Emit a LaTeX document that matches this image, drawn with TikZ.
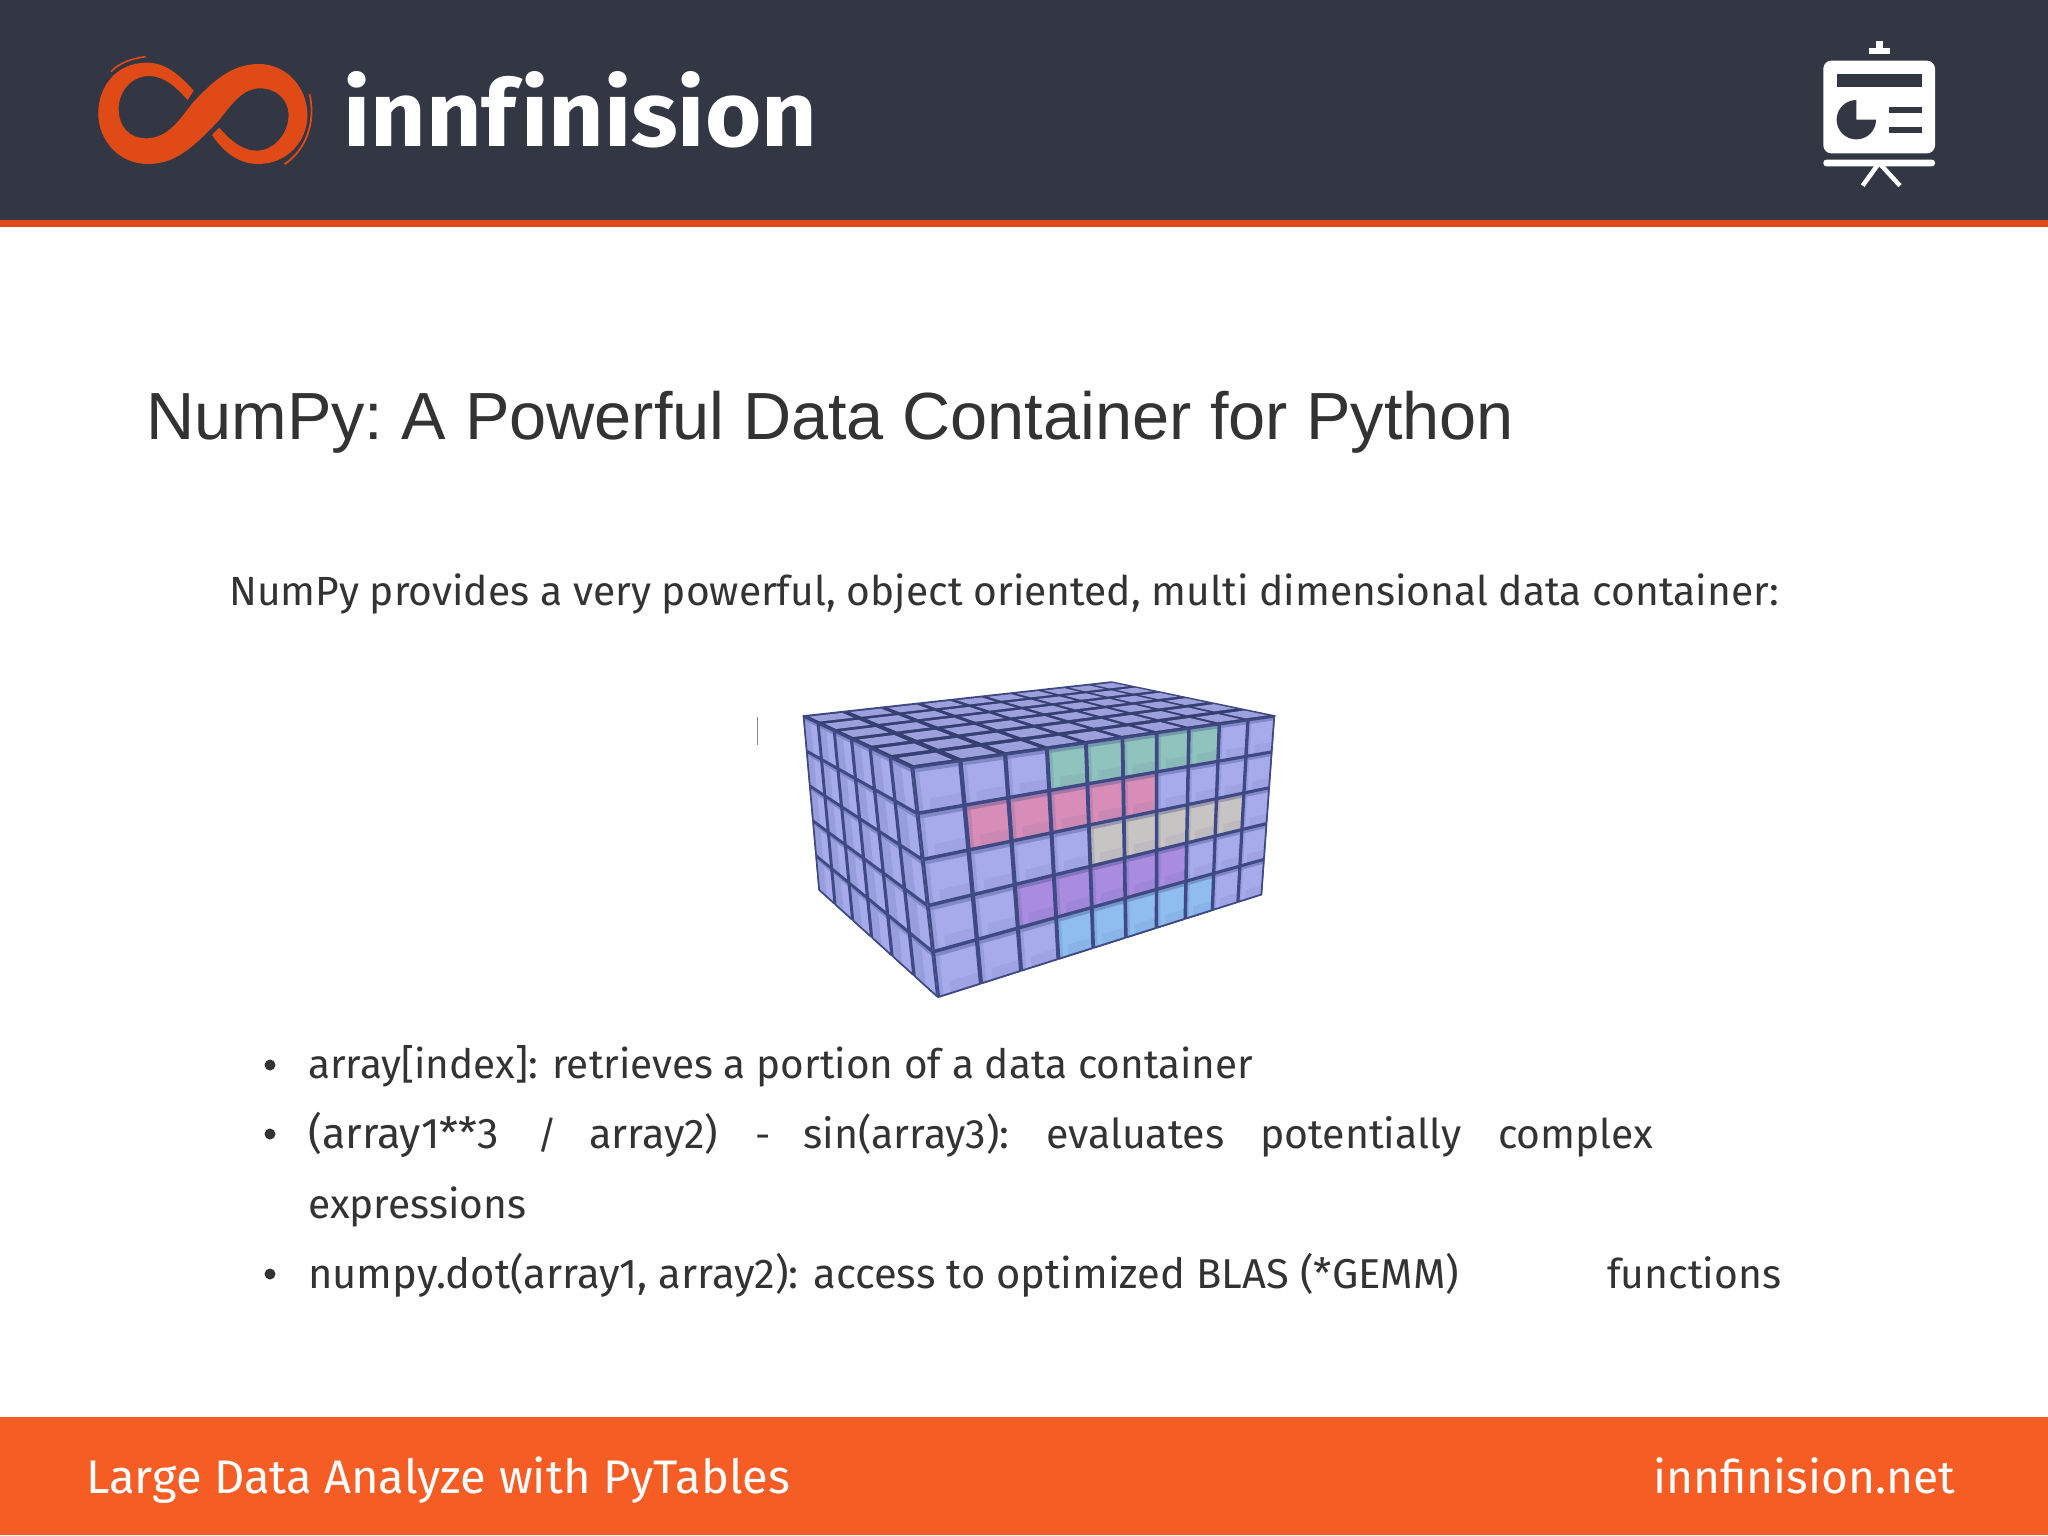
\documentclass[tikz,border=0pt]{standalone}
\usepackage{fontspec}
\usepackage{graphicx}
\setmainfont{Fira Sans}
\newfontfamily\titlefont{Liberation Sans}
\definecolor{hdr}{HTML}{333743}
\definecolor{strip}{HTML}{DF4A16}
\definecolor{foot}{HTML}{F55D25}
\definecolor{ink}{HTML}{333333}
\definecolor{cblue}{HTML}{A7ABEC}
\definecolor{ctop}{HTML}{9CA0DC}
\definecolor{cgreen}{HTML}{8FC4BE}
\definecolor{cpink}{HTML}{D78DB8}
\definecolor{cbeige}{HTML}{C9C4C4}
\definecolor{cpurple}{HTML}{A98BE0}
\definecolor{csky}{HTML}{8FBDF0}
\definecolor{cedge}{HTML}{3F4A85}
\newcommand\fitw[2]{\resizebox{#1pt}{!}{\fontsize{36}{40}\selectfont #2}}
\newcommand\cubept[4]{%
 \pgfmathsetmacro\uu{((#2)/10*1.38)/(1+.38*(#2)/10)}%
 \pgfmathsetmacro\vv{((#3)/6*1.25)/(1+.25*(#3)/6)}%
 \pgfmathsetmacro\ww{(#4)/5}%
 \pgfmathsetmacro\xx{(1-\ww)*((1-\uu)*(1-\vv)*912+\uu*(1-\vv)*1275+(1-\uu)*\vv*803+\uu*\vv*1111.4)+\ww*((1-\uu)*(1-\vv)*938+\uu*(1-\vv)*1262+(1-\uu)*\vv*818.6+\uu*\vv*1125)}%
 \pgfmathsetmacro\yy{(1-\ww)*((1-\uu)*(1-\vv)*767.3+\uu*(1-\vv)*716+(1-\uu)*\vv*716+\uu*\vv*682)+\ww*((1-\uu)*(1-\vv)*998+\uu*(1-\vv)*895+(1-\uu)*\vv*890+\uu*\vv*810)}%
 \coordinate (#1) at (\xx,\yy);}
\newcommand\rightcell[3]{%
 \cubept{a}{#1+.03}{0}{#2+.02}\cubept{b}{#1+.97}{0}{#2+.02}%
 \cubept{c}{#1+.97}{0}{#2+.98}\cubept{d}{#1+.03}{0}{#2+.98}%
 \cubept{e}{#1+.97}{0}{#2+.12}\cubept{f}{#1+.03}{0}{#2+.12}%
 \cubept{g}{#1+.13}{0}{#2+.98}\cubept{h}{#1+.13}{0}{#2+.12}%
 \cubept{p}{#1+.28}{0}{#2+.98}\cubept{q}{#1+.97}{0}{#2+.72}\cubept{r}{#1+.28}{0}{#2+.72}%
 \fill[#3] (a)--(b)--(c)--(d)--cycle;
 \fill[#3!65!cedge] (a)--(b)--(e)--(f)--cycle;
 \fill[#3!85!cedge] (f)--(h)--(g)--(d)--cycle;
 \fill[#3!92!cedge] (r)--(q)--(c)--(p)--cycle;
 \draw[cubeline] (a)--(b)--(c)--(d)--cycle;}
\newcommand\leftcell[2]{%
 \cubept{a}{0}{#1+.04}{#2+.02}\cubept{b}{0}{#1+.96}{#2+.02}%
 \cubept{c}{0}{#1+.96}{#2+.98}\cubept{d}{0}{#1+.04}{#2+.98}%
 \cubept{e}{0}{#1+.96}{#2+.12}\cubept{f}{0}{#1+.04}{#2+.12}%
 \cubept{g}{0}{#1+.5}{#2+.98}\cubept{h}{0}{#1+.5}{#2+.12}%
 \fill[cblue] (a)--(b)--(c)--(d)--cycle;
 \fill[cblue!65!cedge] (a)--(b)--(e)--(f)--cycle;
 \fill[cblue!85!cedge] (h)--(e)--(c)--(g)--cycle;
 \draw[cubeline] (a)--(b)--(c)--(d)--cycle;}
\newcommand\topcell[2]{%
 \cubept{a}{#1+.1}{#2+.15}{0}\cubept{b}{#1+.9}{#2+.15}{0}%
 \cubept{c}{#1+.9}{#2+.85}{0}\cubept{d}{#1+.1}{#2+.85}{0}%
 \fill[ctop] (a)--(b)--(c)--(d)--cycle;}
\tikzset{
 label/.style={anchor=base west,inner sep=0pt,text=ink},
 whitelabel/.style={anchor=base west,inner sep=0pt,text=white},
 bulletmark/.style={circle,fill=ink,inner sep=0pt,minimum size=11pt},
 cubeline/.style={draw=cedge,line width=1.7pt,line join=round},
}
\begin{document}
\begin{tikzpicture}[x=1pt,y=-1pt]
\useasboundingbox (0,0) rectangle (2048,1535);
\fill[white] (0,0) rectangle (2048,1535);
% header and footer
\fill[hdr] (0,0) rectangle (2048,220);
\fill[strip] (0,220) rectangle (2048,227);
\fill[foot] (0,1417) rectangle (2048,1535);
% logo
\begin{scope}[shift={(60,20)},x=0.5102pt,y=-0.3333pt]
\fill[strip] (262,212) .. controls (232,160) and (205,128) .. (170,128)
  .. controls (110,128) and (75,200) .. (75,280)
  .. controls (75,360) and (115,432) .. (172,432)
  .. controls (225,432) and (260,385) .. (312,300)
  .. controls (340,245) and (360,205) .. (392,205)
  .. controls (425,205) and (448,240) .. (448,285)
  .. controls (448,340) and (420,392) .. (385,392)
  .. controls (355,392) and (330,355) .. (312,323)
  -- (298,345)
  .. controls (320,395) and (350,432) .. (388,432)
  .. controls (445,432) and (485,365) .. (485,285)
  .. controls (485,205) and (445,132) .. (390,132)
  .. controls (335,132) and (300,185) .. (262,245)
  .. controls (240,285) and (215,355) .. (170,355)
  .. controls (135,355) and (115,320) .. (115,265)
  .. controls (115,215) and (140,168) .. (175,168)
  .. controls (205,168) and (230,205) .. (250,240) -- cycle;
\draw[strip,line width=1.6pt] (100,155) .. controls (115,130) and (140,115) .. (168,110);
\draw[strip,line width=1.8pt] (489,222) .. controls (500,290) and (490,380) .. (440,433);
\end{scope}
\node[whitelabel] (logotext) at (343,146) {\resizebox{474pt}{75pt}{\fontsize{100}{110}\selectfont\bfseries innf\kern5pt{}inision}};
% presentation icon
\begin{scope}[shift={(1780,20)},x=0.3333pt,y=-0.3333pt]
\fill[white] (267,83) rectangle (329,103);
\fill[white] (287,63) rectangle (308,83);
\fill[white,rounded corners=8pt] (130,122) rectangle (465,400);
\fill[hdr] (170,162) rectangle (426,202);
\fill[hdr] (229,299) -- (229,240) arc[start angle=90,delta angle=270,radius=19.7pt] -- cycle;
\fill[hdr] (328,261) rectangle (426,280);
\fill[hdr] (328,320) rectangle (426,340);
\fill[white,rounded corners=3pt] (130,419) rectangle (465,439);
\draw[white,line width=4.5pt] (295,432) -- (248,497);
\draw[white,line width=4.5pt] (300,432) -- (360,497);
\end{scope}
% title and text
\node[anchor=base west,inner sep=0pt,text=ink] (title) at (146,439) {\resizebox{1368pt}{!}{\fontsize{66}{70}\selectfont\titlefont NumPy:\kern-6pt{} A Powerful Data Container for Python}};
\node[label] (intro) at (229,605) {\fitw{1550}{NumPy provides a very powerful, object oriented, multi dimensional data container:}};
% data cube
\draw[black!45,line width=1pt] (757,717) -- (757,745);
\cubept{t0}{0}{0}{0}\cubept{t1}{10}{0}{0}\cubept{t2}{10}{6}{0}\cubept{t3}{0}{6}{0}
\fill[cedge!85!black,draw=cedge,line width=1.5pt,line join=round] (t0)--(t1)--(t2)--(t3)--cycle;
\foreach \ci in {0,...,9}{\foreach \cj in {0,...,5}{\topcell{\ci}{\cj}}}
\cubept{l0}{0}{0}{0}\cubept{l1}{0}{6}{0}\cubept{l2}{0}{6}{5}\cubept{l3}{0}{0}{5}\cubept{r2}{10}{0}{5}\cubept{r1}{10}{0}{0}
\fill[cedge] (l0)--(l1)--(l2)--(l3)--cycle;
\fill[cedge] (l0)--(r1)--(r2)--(l3)--cycle;
\foreach \cj in {0,...,5}{\foreach \ck in {0,...,4}{\leftcell{\cj}{\ck}}}
\foreach \ci in {0,...,9}{\foreach \ck in {0,...,4}{\rightcell{\ci}{\ck}{cblue}}}
\foreach \cc/\ck/\ca/\cb in {cgreen/0/3/7,cpink/1/1/5,cbeige/2/4/8,cpurple/3/2/6,csky/4/3/7}{
 \foreach \ci in {\ca,...,\cb}{\rightcell{\ci}{\ck}{\cc}}}
% bullets
\node[bulletmark] (b1) at (270,1065) {};
\node[label] (l1) at (308,1078) {\fitw{945}{array[index]: retrieves a portion of a data container}};
\node[bulletmark] (b2) at (270,1134) {};
\node[label] (l2a) at (308,1148) {\fitw{191}{(array1**3}};
\node[label] (l2b) at (537,1148) {\fontsize{38}{40}\selectfont /};
\node[label] (l2c) at (589,1148) {\fitw{129}{array2)}};
\node[label] (l2d) at (755,1148) {\fontsize{38}{40}\selectfont -};
\node[label] (l2e) at (803,1148) {\fitw{206}{sin(array3):}};
\node[label] (l2f) at (1046,1148) {\fitw{178}{evaluates}};
\node[label] (l2g) at (1260,1148) {\fitw{201}{potentially}};
\node[label] (l2h) at (1498,1148) {\fitw{155}{complex}};
\node[label] (l3) at (308,1218) {\fitw{218}{expressions}};
\node[bulletmark] (b3) at (270,1274) {};
\node[label] (l4) at (308,1288) {\fitw{1151}{numpy.dot(array1, array2): access to optimized BLAS (*GEMM)}};
\node[label] (l4b) at (1607,1288) {\fitw{174}{functions}};
% footer
\node[whitelabel] (footl) at (86,1493) {\fitw{704}{Large Data Analyze with PyTables}};
\node[whitelabel] (footr) at (1653,1493) {\fitw{302}{innfinision.net}};
\end{tikzpicture}
\end{document}
